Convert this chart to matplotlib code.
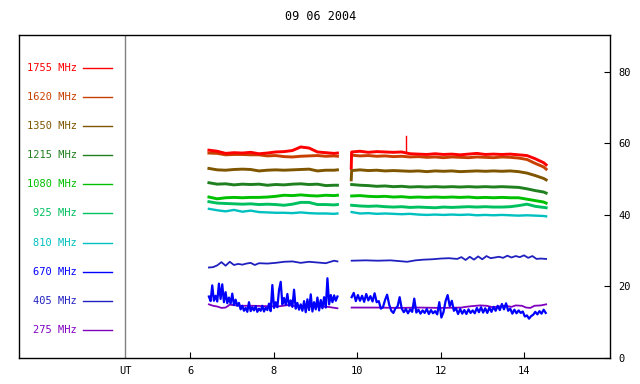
import numpy as np
import matplotlib
matplotlib.use('Agg')
import matplotlib.pyplot as plt

# channel labels and colours (top to bottom in the key)
freqs = ['1755', '1620', '1350', '1215', '1080', '925', '810', '670', '405', '275']
colors = ['#ff0000', '#c84000', '#7f5500', '#208020', '#00c000',
          '#00c060', '#00c0c0', '#0000ff', '#2020c0', '#8000c0']

# first block of observations
t1 = [6.45, 6.65, 6.85, 7.05, 7.25, 7.45, 7.65, 7.85, 8.05, 8.25, 8.45,
      8.65, 8.85, 9.05, 9.25, 9.45, 9.53]
f1755_a = [58.1, 57.8, 57.2, 57.4, 57.3, 57.5, 57.1, 57.3, 57.6, 57.7, 58.0,
           59.0, 58.7, 57.6, 57.4, 57.2, 57.3]
f1620_a = [57.3, 57.2, 56.8, 56.9, 56.9, 56.8, 56.8, 56.5, 56.6, 56.3, 56.2,
           56.4, 56.5, 56.6, 56.4, 56.5, 56.4]
f1350_a = [53.0, 52.6, 52.5, 52.7, 52.8, 52.7, 52.3, 52.5, 52.6, 52.5, 52.6,
           52.7, 52.8, 52.3, 52.5, 52.5, 52.6]
f1215_a = [49.0, 48.6, 48.7, 48.4, 48.6, 48.5, 48.6, 48.3, 48.5, 48.4, 48.6,
           48.7, 48.5, 48.6, 48.2, 48.3, 48.3]
f1080_a = [45.0, 44.5, 44.8, 44.9, 44.8, 44.9, 44.9, 45.0, 45.2, 45.5, 45.4,
           45.6, 45.4, 45.3, 45.5, 45.4, 45.5]
f925_a = [43.7, 43.3, 43.2, 43.1, 43.0, 43.1, 42.9, 43.0, 42.9, 42.7, 43.0,
          43.5, 43.5, 42.9, 42.9, 42.8, 42.9]
f810_a = [41.7, 41.3, 41.0, 41.4, 40.9, 41.2, 40.8, 40.7, 40.6, 40.6, 40.5,
          40.7, 40.5, 40.4, 40.4, 40.3, 40.4]

t_mid_a = [6.45, 6.55, 6.65, 6.75, 6.85, 6.95, 7.05, 7.15, 7.25, 7.35, 7.45,
           7.55, 7.65, 7.85, 8.05, 8.25, 8.45, 8.65, 8.85, 9.05, 9.25, 9.45, 9.53]
mid_a = [25.3, 25.4, 25.9, 26.8, 25.8, 26.9, 26.0, 26.3, 26.1, 26.4, 26.6,
         26.0, 26.5, 26.4, 26.6, 26.9, 27.0, 26.6, 26.9, 26.7, 26.5, 27.2, 27.0]

t275_a = [6.45, 6.55, 6.65, 6.75, 6.85, 6.95, 7.2, 7.5, 7.8, 8.1, 8.35, 8.6,
          9.0, 9.3, 9.53]
f275_a = [15.0, 14.6, 14.4, 14.0, 14.1, 14.9, 14.6, 14.6, 14.5, 14.4, 14.8,
          14.4, 14.4, 14.3, 13.9]

noisy_a = [17.2, 15.9, 20.3, 16.0, 17.4, 15.8, 20.8, 16.5, 20.6, 15.6, 18.4,
           15.3, 16.9, 15.2, 18.0, 14.8, 16.3, 14.6, 15.4, 13.6, 14.6, 13.2,
           14.0, 12.9, 15.6, 13.1, 14.2, 13.3, 14.5, 12.9, 13.8, 13.2, 14.6,
           13.0, 14.1, 13.4, 15.2, 13.1, 20.4, 14.0, 15.6, 14.2, 19.0, 21.3,
           15.0, 16.8, 14.9, 17.9, 14.6, 16.1, 14.3, 19.1, 13.8, 15.4, 13.5,
           15.0, 13.2, 15.9, 12.8, 16.4, 13.4, 17.8, 13.0, 15.6, 13.6, 16.9,
           13.3, 16.2, 13.9, 17.0, 14.1, 22.3, 15.0, 17.6, 15.6, 17.5, 16.0, 17.2]

# second block of observations
t2 = [9.87, 10.07, 10.27, 10.47, 10.67, 10.87, 11.07, 11.27, 11.47, 11.67,
      11.87, 12.07, 12.27, 12.47, 12.67, 12.87, 13.07, 13.27, 13.47, 13.67,
      13.87, 14.07, 14.27, 14.47, 14.53]
t1755_b = [9.86] + t2
f1755_b = [53.0, 57.6, 57.8, 57.5, 57.7, 57.6, 57.5, 57.6, 57.1, 57.0, 56.9,
           57.1, 56.9, 57.0, 56.8, 57.0, 57.2, 56.9, 57.0, 56.9, 57.0, 56.8,
           56.6, 55.7, 54.6, 54.0]
spike_t = [11.17, 11.17]
spike_v = [57.4, 62.0]
f1620_b = [56.7, 56.5, 56.6, 56.4, 56.5, 56.3, 56.4, 56.2, 56.3, 56.1, 56.2,
           56.0, 56.2, 56.1, 56.0, 56.2, 56.1, 56.0, 56.2, 56.1, 55.9, 55.5,
           54.4, 53.4, 52.8]
t1350_b = [9.86] + t2
f1350_b = [49.8, 52.4, 52.6, 52.4, 52.5, 52.3, 52.4, 52.3, 52.2, 52.3, 52.1,
           52.3, 52.2, 52.3, 52.1, 52.2, 52.3, 52.2, 52.3, 52.2, 52.3, 52.1,
           51.7, 51.0, 50.2, 49.8]
f1215_b = [48.5, 48.3, 48.2, 48.0, 48.1, 47.9, 48.0, 47.8, 47.9, 47.8, 47.9,
           47.8, 47.9, 47.8, 47.9, 47.8, 47.9, 47.8, 47.9, 47.8, 47.7, 47.3,
           46.8, 46.4, 46.1]
f1080_b = [45.3, 45.4, 45.2, 45.1, 45.2, 45.0, 45.1, 44.9, 45.0, 44.9, 45.0,
           44.9, 45.0, 44.9, 45.0, 44.8, 44.9, 44.8, 44.9, 44.8, 44.8, 44.4,
           44.0, 43.6, 43.3]
f925_b = [42.7, 42.5, 42.4, 42.5, 42.3, 42.2, 42.3, 42.1, 42.2, 42.1, 42.0,
          42.2, 42.1, 42.2, 42.3, 42.2, 42.3, 42.2, 42.2, 42.3, 42.6, 43.0,
          42.4, 42.1, 42.0]
f810_b = [40.8, 40.4, 40.5, 40.3, 40.4, 40.3, 40.2, 40.3, 40.1, 40.0, 40.1,
          40.0, 40.1, 40.0, 40.1, 39.9, 40.0, 39.9, 40.0, 39.9, 39.8, 39.9,
          39.8, 39.7, 39.6]

t_mid_b = [9.87, 10.2, 10.5, 10.8, 11.0, 11.2, 11.4, 11.6, 11.8, 12.0, 12.2,
           12.4, 12.5, 12.6, 12.7, 12.8, 12.9, 13.0, 13.1, 13.2, 13.4, 13.5,
           13.6, 13.7, 13.8, 13.9, 14.0, 14.1, 14.2, 14.3, 14.4, 14.53]
mid_b = [27.2, 27.3, 27.2, 27.3, 27.1, 26.9, 27.3, 27.5, 27.6, 27.8, 27.9,
         27.7, 28.2, 27.4, 28.3, 27.5, 28.4, 27.6, 28.5, 27.9, 28.3, 28.0,
         28.6, 28.1, 28.5, 28.2, 28.7, 28.0, 28.5, 27.7, 27.8, 27.7]

t275_b = [9.87, 10.5, 11.0, 11.5, 12.0, 12.5, 12.6, 12.75, 12.95, 13.1, 13.25,
          13.4, 13.55, 13.7, 13.8, 13.95, 14.05, 14.15, 14.25, 14.4, 14.53]
f275_b = [14.1, 14.1, 14.0, 14.1, 14.0, 14.1, 14.3, 14.5, 14.7, 14.6, 14.2,
          14.4, 14.6, 14.3, 14.7, 14.6, 14.1, 14.0, 14.6, 14.7, 15.0]

noisy_b = [17.0, 18.2, 15.9, 17.6, 16.0, 17.4, 15.7, 17.9, 16.1, 17.3, 15.8,
           18.1, 15.6, 15.9, 13.8, 14.2, 16.2, 17.7, 14.9, 13.2, 12.6, 13.9,
           14.4, 17.0, 13.8, 12.8, 13.7, 12.5, 13.6, 12.9, 16.6, 12.7, 13.5,
           12.4, 13.3, 12.6, 13.7, 12.3, 13.4, 12.5, 13.1, 12.2, 15.6, 11.3,
           12.8, 15.9, 17.6, 14.5, 16.0, 13.2, 13.9, 12.3, 13.7, 12.4, 13.4,
           12.3, 13.6, 12.6, 13.3, 12.5, 14.0, 12.8, 14.2, 12.7, 13.9, 12.6,
           14.1, 12.9, 14.3, 13.2, 14.6, 13.4, 15.1, 13.6, 15.3, 13.2, 13.8,
           12.4, 13.5, 12.5, 13.3, 12.6, 13.0, 11.6, 11.9, 11.0, 11.7, 12.1,
           12.9, 12.2, 13.1, 12.4, 13.5, 12.6]

t_noisy_a = np.linspace(6.45, 9.53, len(noisy_a))
t_noisy_b = np.linspace(9.87, 14.52, len(noisy_b))

font = {'family': 'DejaVu Sans Mono', 'size': 7.5}

fig = plt.figure(figsize=(6.4, 3.84), dpi=100)
ax = fig.add_axes([19/640, 1 - 358/384, 591/640, 323/384])

lw = 2.1
ax.plot(t1, f1620_a, color=colors[1], lw=lw)
ax.plot(t2, f1620_b, color=colors[1], lw=lw)
ax.plot(t1, f1755_a, color=colors[0], lw=lw)
ax.plot(t1755_b, f1755_b, color=colors[0], lw=lw)
ax.plot(spike_t, spike_v, color=colors[0], lw=1)
ax.plot(t1, f1350_a, color=colors[2], lw=lw)
ax.plot(t1350_b, f1350_b, color=colors[2], lw=lw)
ax.plot(t1, f1215_a, color=colors[3], lw=lw)
ax.plot(t2, f1215_b, color=colors[3], lw=lw)
ax.plot(t1, f1080_a, color=colors[4], lw=lw)
ax.plot(t2, f1080_b, color=colors[4], lw=lw)
ax.plot(t1, f925_a, color=colors[5], lw=lw)
ax.plot(t2, f925_b, color=colors[5], lw=lw)
ax.plot(t1, f810_a, color=colors[6], lw=1.7)
ax.plot(t2, f810_b, color=colors[6], lw=1.7)
ax.plot(t_mid_a, mid_a, color=colors[8], lw=1.3)
ax.plot(t_mid_b, mid_b, color=colors[8], lw=1.3)
ax.plot(t275_a, f275_a, color=colors[9], lw=1.3)
ax.plot(t275_b, f275_b, color=colors[9], lw=1.3)
ax.plot(t_noisy_a, noisy_a, color=colors[7], lw=1.6)
ax.plot(t_noisy_b, noisy_b, color=colors[7], lw=1.6)

# hand-made key on the left
key_y = np.linspace(0.898, 0.087, len(freqs))
for f, c, y in zip(freqs, colors, key_y):
    ax.text(0.098, y, f + ' MHz', color=c, ha='right', va='center',
            transform=ax.transAxes, fontdict=font)
    ax.plot([0.108, 0.157], [y, y], color=c, lw=1, transform=ax.transAxes)

ax.axvline(4.44, color='#808080', lw=1)
ax.text(4.44, -0.025, 'UT', ha='center', va='top',
        transform=ax.get_xaxis_transform(), fontdict=font)

ax.set_xlim(1.9, 16.06)
ax.set_ylim(0, 90.3)
ax.set_xticks([6, 8, 10, 12, 14])
ax.set_yticks([0, 20, 40, 60, 80])
ax.yaxis.tick_right()
ax.tick_params(axis='x', direction='in', length=4, pad=6)
ax.tick_params(axis='y', direction='in', length=4, pad=6)
for lab in ax.get_xticklabels() + ax.get_yticklabels():
    lab.set_fontfamily('DejaVu Sans Mono')
    lab.set_fontsize(7.5)
for s in ax.spines.values():
    s.set_linewidth(1)

fig.text(321/640, 1 - 17/384, '09 06 2004', ha='center', va='center',
         family='DejaVu Sans Mono', size=8.5)

fig.savefig('out.png', dpi=100)
